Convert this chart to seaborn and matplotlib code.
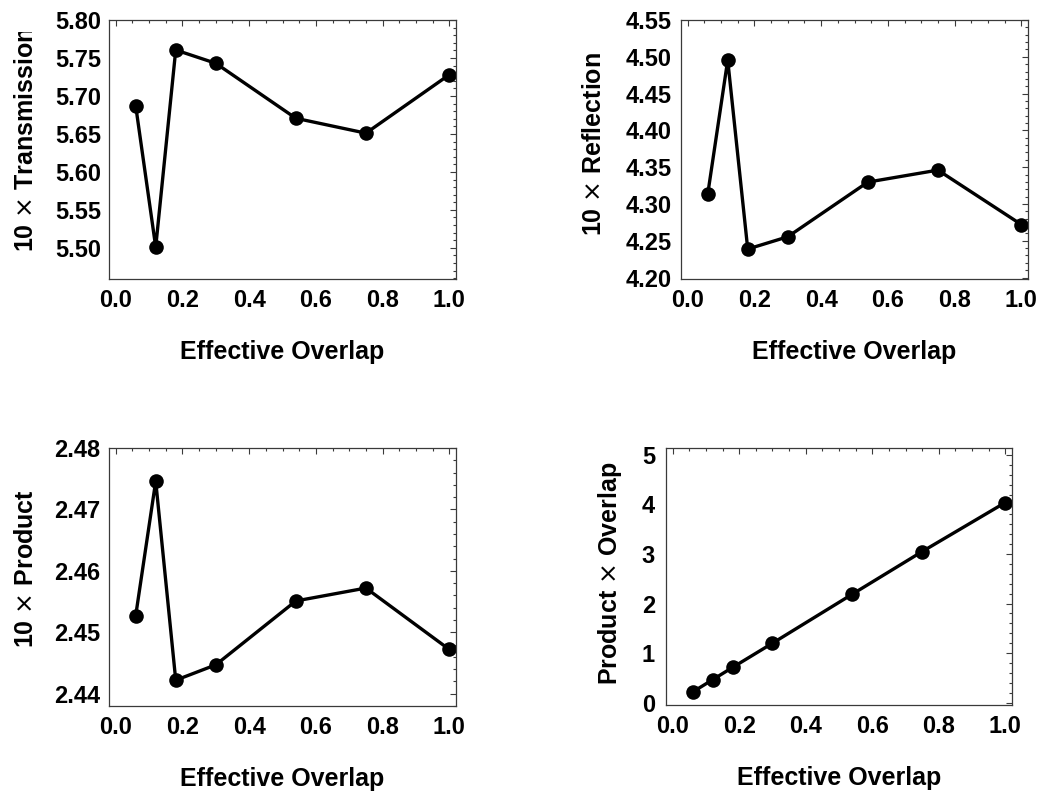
import matplotlib
matplotlib.use("Agg")
import matplotlib.pyplot as plt
from matplotlib.ticker import MultipleLocator, FormatStrFormatter
from matplotlib.transforms import Bbox, TransformedBbox
import seaborn as sns
import pandas as pd

# ---- data ----
overlap = [0.06, 0.12, 0.18, 0.30, 0.54, 0.75, 1.00]
transmission = [5.687, 5.501, 5.7605, 5.743, 5.6706, 5.651, 5.728]
reflection = [4.313, 4.4955, 4.2387, 4.2554, 4.3297, 4.346, 4.272]
product = [2.4527, 2.4746, 2.4422, 2.4447, 2.4551, 2.4572, 2.4472]
product_overlap = [0.215, 0.463, 0.711, 1.20, 2.19, 3.05, 4.04]

x_label = "Effective Overlap"
y_labels = [r"10 $\times$ Transmission", r"10 $\times$ Reflection",
            r"10 $\times$ Product", r"Product $\times$ Overlap"]

sns.set_theme(style="white")
plt.rcParams["font.family"] = ["Liberation Sans", "DejaVu Sans"]
plt.rcParams["font.weight"] = "bold"
plt.rcParams["axes.labelweight"] = "bold"
plt.rcParams["text.color"] = "black"
plt.rcParams["axes.labelcolor"] = "black"
plt.rcParams["mathtext.fontset"] = "custom"
plt.rcParams["mathtext.rm"] = "DejaVu Sans:normal"
plt.rcParams["mathtext.it"] = "DejaVu Sans:normal"
plt.rcParams["mathtext.bf"] = "DejaVu Sans:normal"

W, H = 1040, 794
fig = plt.figure(figsize=(W / 100, H / 100), dpi=100)
fig.patch.set_facecolor("white")

def px_axes(left, top, right, bottom):
    return fig.add_axes([left / W, 1 - bottom / H, (right - left) / W, (bottom - top) / H])

panels = [
    # axes box px, y values, ylim, major, minor, fmt, ytick pad, label baseline x, label bottom y, clip top y
    dict(box=(109, 20, 456, 279), y=transmission, ylim=(5.459, 5.80), maj=0.05, mnr=0.01,
         fmt="%.2f", ypad=5.5, lx=33, ly=252, clip=31.5),
    dict(box=(681, 20, 1028, 279), y=reflection, ylim=(4.198, 4.55), maj=0.05, mnr=0.01,
         fmt="%.2f", ypad=6.5, lx=601, ly=236, clip=53),
    dict(box=(109, 448, 456, 706), y=product, ylim=(2.438, 2.48), maj=0.01, mnr=0.002,
         fmt="%.2f", ypad=6.5, lx=33, ly=648, clip=491),
    dict(box=(666, 448, 1012, 705), y=product_overlap, ylim=(-0.047, 5.14), maj=1, mnr=0.2,
         fmt="%d", ypad=8.0, lx=617, ly=685, clip=461.5),
]

frame_col = "#3a3a3a"
for p, ylab in zip(panels, y_labels):
    l, t, r, b = p["box"]
    ax = px_axes(l, t, r, b)
    df = pd.DataFrame({"x": overlap, "y": p["y"]})
    sns.lineplot(data=df, x="x", y="y", ax=ax, color="black", linewidth=2.4,
                 marker="o", markersize=10.5, markeredgewidth=0, markerfacecolor="black")
    ax.set_xlim(-0.02, 1.02)
    ax.set_ylim(*p["ylim"])
    ax.xaxis.set_major_locator(MultipleLocator(0.2))
    ax.xaxis.set_minor_locator(MultipleLocator(0.05))
    ax.xaxis.set_major_formatter(FormatStrFormatter("%.1f"))
    ax.yaxis.set_major_locator(MultipleLocator(p["maj"]))
    ax.yaxis.set_minor_locator(MultipleLocator(p["mnr"]))
    ax.yaxis.set_major_formatter(FormatStrFormatter(p["fmt"]))
    for s in ax.spines.values():
        s.set_visible(True)
        s.set_color(frame_col)
        s.set_linewidth(0.9)
    ax.tick_params(which="both", direction="in", top=True, right=True,
                   color=frame_col, width=0.8, labelcolor="black")
    ax.tick_params(which="major", length=4.3, labelsize=17)
    ax.tick_params(which="minor", length=2.4)
    ax.tick_params(axis="x", which="major", pad=7)
    ax.tick_params(axis="y", which="major", pad=p["ypad"])
    for lab in ax.get_xticklabels() + ax.get_yticklabels():
        lab.set_fontweight("bold")
    # x label
    ax.set_xlabel(x_label, fontsize=18, fontweight="bold")
    ax.xaxis.set_label_coords(0.5, -(340 - 279) / 259)
    # y label positioned and clipped like the reference
    ax.set_ylabel(ylab, fontsize=18, fontweight="bold")
    yl = ax.yaxis.label
    yl.set_rotation_mode("anchor")
    yl.set_horizontalalignment("left")
    yl.set_verticalalignment("baseline")
    ax.yaxis.set_label_coords((p["lx"] - l) / (r - l), (b - p["ly"]) / (b - t))
    clip = TransformedBbox(Bbox([[0, 0], [l / W, 1 - p["clip"] / H]]), fig.transFigure)
    yl.set_clip_on(True)
    yl.set_clip_box(clip)

fig.savefig("out.png", dpi=100, facecolor="white")
